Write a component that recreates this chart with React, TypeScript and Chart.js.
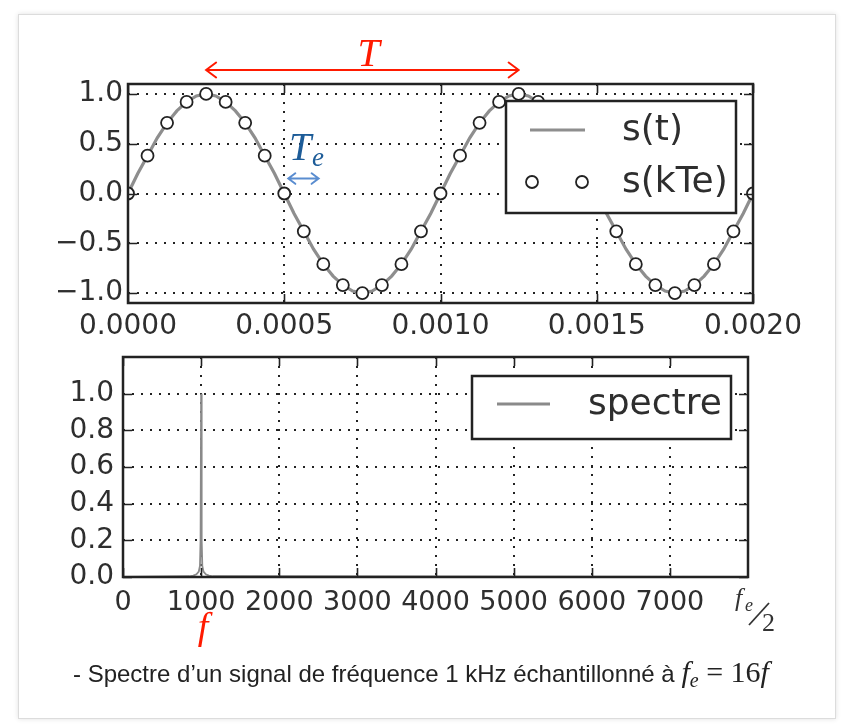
import React, { useEffect, useRef } from "react";
import { Chart, registerables } from "chart.js";

Chart.register(...registerables);

// ---------- data ----------
const sampleTimes = [
  0, 0.0000625, 0.000125, 0.0001875, 0.00025, 0.0003125, 0.000375, 0.0004375,
  0.0005, 0.0005625, 0.000625, 0.0006875, 0.00075, 0.0008125, 0.000875, 0.0009375,
  0.001, 0.0010625, 0.001125, 0.0011875, 0.00125, 0.0013125, 0.001375, 0.0014375,
  0.0015, 0.0015625, 0.001625, 0.0016875, 0.00175, 0.0018125, 0.001875, 0.0019375, 0.002,
];
const sampleValues = [
  0, 0.38, 0.71, 0.92, 1.0, 0.92, 0.71, 0.38, 0, -0.38, -0.71, -0.92, -1.0, -0.92, -0.71, -0.38,
  0, 0.38, 0.71, 0.92, 1.0, 0.92, 0.71, 0.38, 0, -0.38, -0.71, -0.92, -1.0, -0.92, -0.71, -0.38, 0,
];
const signalTimes = [
  0, 0.00003125, 0.0000625, 0.00009375, 0.000125, 0.00015625, 0.0001875, 0.00021875,
  0.00025, 0.00028125, 0.0003125, 0.00034375, 0.000375, 0.00040625, 0.0004375, 0.00046875,
  0.0005, 0.00053125, 0.0005625, 0.00059375, 0.000625, 0.00065625, 0.0006875, 0.00071875,
  0.00075, 0.00078125, 0.0008125, 0.00084375, 0.000875, 0.00090625, 0.0009375, 0.00096875,
  0.001, 0.00103125, 0.0010625, 0.00109375, 0.001125, 0.00115625, 0.0011875, 0.00121875,
  0.00125, 0.00128125, 0.0013125, 0.00134375, 0.001375, 0.00140625, 0.0014375, 0.00146875,
  0.0015, 0.00153125, 0.0015625, 0.00159375, 0.001625, 0.00165625, 0.0016875, 0.00171875,
  0.00175, 0.00178125, 0.0018125, 0.00184375, 0.001875, 0.00190625, 0.0019375, 0.00196875,
  0.002,
];
const signalValues = [
  0, 0.2, 0.38, 0.56, 0.71, 0.83, 0.92, 0.98, 1, 0.98, 0.92, 0.83, 0.71, 0.56, 0.38, 0.2,
  0, -0.2, -0.38, -0.56, -0.71, -0.83, -0.92, -0.98, -1, -0.98, -0.92, -0.83, -0.71, -0.56, -0.38, -0.2,
  0, 0.2, 0.38, 0.56, 0.71, 0.83, 0.92, 0.98, 1, 0.98, 0.92, 0.83, 0.71, 0.56, 0.38, 0.2,
  0, -0.2, -0.38, -0.56, -0.71, -0.83, -0.92, -0.98, -1, -0.98, -0.92, -0.83, -0.71, -0.56, -0.38, -0.2,
  0,
];
const spectrumFreqs = [0, 850, 900, 940, 970, 985, 993, 1000, 1007, 1015, 1030, 1060, 1100, 1150, 8000];
const spectrumAmps = [0, 0.004, 0.008, 0.015, 0.03, 0.06, 0.2, 1.0, 0.2, 0.06, 0.03, 0.015, 0.008, 0.004, 0];

const topXTicks = [0, 0.0005, 0.001, 0.0015, 0.002];
const topYTicks = [-1, -0.5, 0, 0.5, 1];
const botXTicks = [0, 1000, 2000, 3000, 4000, 5000, 6000, 7000];
const botYTicks = [0, 0.2, 0.4, 0.6, 0.8, 1.0];

// ---------- style ----------
const SANS = '"DejaVu Sans", sans-serif';
const SERIF = '"Liberation Serif", "DejaVu Serif", serif';
const INK = "#222222";
const TXT = "#2e2e2e";

function doubleArrow(ctx: CanvasRenderingContext2D, x1: number, x2: number, y: number, color: string, w: number, head: number) {
  ctx.save();
  ctx.strokeStyle = color;
  ctx.lineWidth = w;
  ctx.lineCap = "round";
  ctx.beginPath();
  ctx.moveTo(x1, y);
  ctx.lineTo(x2, y);
  ctx.moveTo(x1 + head, y - head * 0.75);
  ctx.lineTo(x1, y);
  ctx.lineTo(x1 + head, y + head * 0.75);
  ctx.moveTo(x2 - head, y - head * 0.75);
  ctx.lineTo(x2, y);
  ctx.lineTo(x2 - head, y + head * 0.75);
  ctx.stroke();
  ctx.restore();
}

const framePlugin = {
  id: "frame",
  afterDatasetsDraw(chart: any) {
    const { ctx, chartArea: a } = chart;
    const xs = chart.scales.x;
    const ys = chart.scales.y;
    ctx.save();
    ctx.strokeStyle = INK;
    ctx.lineWidth = 1.6;
    ctx.beginPath();
    xs.ticks.forEach((t: any) => {
      const p = Math.round(xs.getPixelForValue(t.value)) + 0.5;
      ctx.moveTo(p, a.bottom);
      ctx.lineTo(p, a.bottom - 9);
      ctx.moveTo(p, a.top);
      ctx.lineTo(p, a.top + 9);
    });
    ys.ticks.forEach((t: any) => {
      const p = Math.round(ys.getPixelForValue(t.value)) + 0.5;
      ctx.moveTo(a.left, p);
      ctx.lineTo(a.left + 9, p);
      ctx.moveTo(a.right, p);
      ctx.lineTo(a.right - 9, p);
    });
    ctx.stroke();
    ctx.lineWidth = 2.5;
    ctx.strokeRect(a.left, a.top, a.right - a.left, a.bottom - a.top);
    ctx.restore();
  },
};

const topAnnotations = {
  id: "topAnnotations",
  afterDraw(chart: any) {
    const { ctx, chartArea: a } = chart;
    const xs = chart.scales.x;
    const ys = chart.scales.y;
    const ds = chart.data.datasets;
    // legend
    const lx = a.left + 378, ly = a.top + 17, lw = 230, lh = 112;
    ctx.save();
    ctx.fillStyle = "#ffffff";
    ctx.fillRect(lx, ly, lw, lh);
    ctx.strokeStyle = INK;
    ctx.lineWidth = 2.5;
    ctx.strokeRect(lx, ly, lw, lh);
    ctx.strokeStyle = ds[0].borderColor;
    ctx.lineWidth = 3;
    ctx.beginPath();
    ctx.moveTo(lx + 24, ly + 29);
    ctx.lineTo(lx + 79, ly + 29);
    ctx.stroke();
    ctx.fillStyle = "#fff";
    ctx.strokeStyle = INK;
    ctx.lineWidth = 1.8;
    [lx + 26, lx + 76].forEach((cx) => {
      ctx.beginPath();
      ctx.arc(cx, ly + 81, 6, 0, Math.PI * 2);
      ctx.fill();
      ctx.stroke();
    });
    ctx.fillStyle = TXT;
    ctx.font = `36px ${SANS}`;
    ctx.textBaseline = "middle";
    ctx.textAlign = "left";
    ctx.fillText(ds[0].label, lx + 116, ly + 30);
    ctx.fillText(ds[1].label, lx + 116, ly + 82);
    ctx.restore();

    // period T
    const yArrow = a.top - 14;
    doubleArrow(ctx, xs.getPixelForValue(0.00025), xs.getPixelForValue(0.00125), yArrow, "#ff1a00", 2, 10);
    ctx.save();
    ctx.fillStyle = "#ff1a00";
    ctx.font = `italic 40px ${SERIF}`;
    ctx.textAlign = "center";
    ctx.textBaseline = "alphabetic";
    ctx.fillText("T", xs.getPixelForValue(0.00077), a.top - 18);
    ctx.restore();

    // sampling period Te
    const ya = ys.getPixelForValue(0.15);
    doubleArrow(ctx, xs.getPixelForValue(0.000513), xs.getPixelForValue(0.00061), ya, "#5a8dd0", 2, 7);
    ctx.save();
    ctx.fillStyle = "#1d5c98";
    ctx.textBaseline = "alphabetic";
    ctx.textAlign = "left";
    ctx.font = `italic 40px ${SERIF}`;
    const tx = xs.getPixelForValue(0.000515);
    ctx.fillText("T", tx, ya - 19);
    ctx.font = `italic 27px ${SERIF}`;
    ctx.fillText("e", tx + 23, ya - 13);
    ctx.restore();
  },
};

const bottomAnnotations = {
  id: "bottomAnnotations",
  afterDraw(chart: any) {
    const { ctx, chartArea: a } = chart;
    const xs = chart.scales.x;
    const ds = chart.data.datasets;
    // legend
    const lx = a.left + 349, ly = a.top + 19, lw = 259, lh = 63;
    ctx.save();
    ctx.fillStyle = "#ffffff";
    ctx.fillRect(lx, ly, lw, lh);
    ctx.strokeStyle = INK;
    ctx.lineWidth = 2.5;
    ctx.strokeRect(lx, ly, lw, lh);
    ctx.strokeStyle = ds[0].borderColor;
    ctx.lineWidth = 3;
    ctx.beginPath();
    ctx.moveTo(lx + 25, ly + 28);
    ctx.lineTo(lx + 78, ly + 28);
    ctx.stroke();
    ctx.fillStyle = TXT;
    ctx.font = `36px ${SANS}`;
    ctx.textBaseline = "middle";
    ctx.textAlign = "left";
    ctx.fillText(ds[0].label, lx + 116, ly + 29);
    ctx.restore();

    // f marker
    ctx.save();
    ctx.fillStyle = "#ff1a00";
    ctx.font = `italic 38px ${SERIF}`;
    ctx.textAlign = "center";
    ctx.textBaseline = "alphabetic";
    ctx.fillText("f", xs.getPixelForValue(1000) + 2, a.bottom + 62);
    ctx.restore();

    // fe/2 label
    ctx.save();
    ctx.fillStyle = "#333";
    ctx.strokeStyle = "#333";
    ctx.textBaseline = "alphabetic";
    ctx.textAlign = "left";
    ctx.font = `italic 26px ${SERIF}`;
    ctx.fillText("f", a.right - 13, a.bottom + 29);
    ctx.font = `italic 18px ${SERIF}`;
    ctx.fillText("e", a.right - 3, a.bottom + 34);
    ctx.lineWidth = 1.8;
    ctx.beginPath();
    ctx.moveTo(a.right + 1, a.bottom + 48);
    ctx.lineTo(a.right + 21, a.bottom + 26);
    ctx.stroke();
    ctx.font = `26px ${SERIF}`;
    ctx.fillText("2", a.right + 14, a.bottom + 54);
    ctx.restore();
  },
};

function fixedTicks(values: number[]) {
  return (scale: any) => {
    scale.ticks = values.map((v) => ({ value: v }));
  };
}

function fmtMinus(v: number, d: number) {
  return v.toFixed(d).replace("-", "\u2212");
}

const fitX = (s: any) => {
  s.height = 40;
};
const fitY = (s: any) => {
  s.width = 100;
  s.paddingTop = 0;
  s.paddingBottom = 0;
};

function axisCommon() {
  return {
    grid: { color: INK, lineWidth: 2, drawTicks: false },
    border: { display: false, dash: [2, 7] },
  };
}

function TopChart() {
  const ref = useRef<HTMLCanvasElement | null>(null);
  useEffect(() => {
    if (!ref.current) return;
    const chart = new Chart(ref.current, {
      type: "line",
      data: {
        datasets: [
          {
            label: "s(t)",
            data: signalTimes.map((t, i) => ({ x: t, y: signalValues[i] })),
            borderColor: "#8e8e8e",
            borderWidth: 3.2,
            pointRadius: 0,
            tension: 0,
            order: 2,
          },
          {
            label: "s(kTe)",
            data: sampleTimes.map((t, i) => ({ x: t, y: sampleValues[i] })),
            showLine: false,
            pointRadius: 6,
            pointBackgroundColor: "#ffffff",
            pointBorderColor: INK,
            pointBorderWidth: 1.8,
            order: 1,
          },
        ],
      },
      options: {
        responsive: false,
        animation: false,
        devicePixelRatio: 1,
        layout: { padding: { left: 28, right: 91, top: 84, bottom: 2 } },
        plugins: { legend: { display: false }, tooltip: { enabled: false } },
        scales: {
          x: {
            type: "linear",
            min: 0,
            max: 0.002,
            afterBuildTicks: fixedTicks(topXTicks),
            afterFit: fitX,
            ...axisCommon(),
            ticks: {
              autoSkip: false,
              maxRotation: 0,
              padding: 7,
              color: TXT,
              font: { family: SANS, size: 28 },
              callback: (v: any) => Number(v).toFixed(4),
            },
          },
          y: {
            type: "linear",
            min: -1.1,
            max: 1.1,
            afterBuildTicks: fixedTicks(topYTicks),
            afterFit: fitY,
            ...axisCommon(),
            ticks: {
              padding: 5,
              color: TXT,
              font: { family: SANS, size: 28 },
              callback: (v: any) => fmtMinus(Number(v), 1),
            },
          },
        },
      },
      plugins: [framePlugin, topAnnotations],
    } as any);
    return () => chart.destroy();
  }, []);
  return (
    <canvas
      ref={ref}
      width={844}
      height={345}
      style={{ position: "absolute", left: 0, top: 0, width: 844, height: 345 }}
    />
  );
}

function BottomChart() {
  const ref = useRef<HTMLCanvasElement | null>(null);
  useEffect(() => {
    if (!ref.current) return;
    const chart = new Chart(ref.current, {
      type: "line",
      data: {
        datasets: [
          {
            label: "spectre",
            data: spectrumFreqs.map((f, i) => ({ x: f, y: spectrumAmps[i] })),
            borderColor: "#8a8a8a",
            borderWidth: 1.8,
            pointRadius: 0,
            tension: 0,
          },
        ],
      },
      options: {
        responsive: false,
        animation: false,
        devicePixelRatio: 1,
        layout: { padding: { left: 23, right: 96, top: 12, bottom: 107 } },
        plugins: { legend: { display: false }, tooltip: { enabled: false } },
        scales: {
          x: {
            type: "linear",
            min: 0,
            max: 8000,
            afterBuildTicks: fixedTicks(botXTicks),
            afterFit: fitX,
            ...axisCommon(),
            ticks: {
              autoSkip: false,
              maxRotation: 0,
              padding: 10,
              color: TXT,
              font: { family: SANS, size: 27 },
              callback: (v: any) => String(v),
            },
          },
          y: {
            type: "linear",
            min: 0,
            max: 1.2,
            afterBuildTicks: fixedTicks(botYTicks),
            afterFit: fitY,
            ...axisCommon(),
            ticks: {
              padding: 9,
              color: TXT,
              font: { family: SANS, size: 28 },
              callback: (v: any) => Number(v).toFixed(1),
            },
          },
        },
      },
      plugins: [framePlugin, bottomAnnotations],
    } as any);
    return () => chart.destroy();
  }, []);
  return (
    <canvas
      ref={ref}
      width={844}
      height={379}
      style={{ position: "absolute", left: 0, top: 345, width: 844, height: 379 }}
    />
  );
}

export default function App() {
  return (
    <div
      style={{
        position: "absolute",
        left: 0,
        top: 0,
        width: 844,
        height: 724,
        background: "#ffffff",
        overflow: "hidden",
      }}
    >
      <div
        style={{
          position: "absolute",
          left: 18,
          top: 14,
          width: 816,
          height: 703,
          border: "1px solid #dcdcdc",
          boxShadow: "0 0 5px rgba(0,0,0,0.12)",
          background: "#fff",
        }}
      />
      <TopChart />
      <BottomChart />
      <div
        style={{
          position: "absolute",
          left: 73,
          top: 657,
          fontFamily: '"Liberation Sans", Arial, sans-serif',
          fontSize: 24,
          lineHeight: "30px",
          color: "#222",
          whiteSpace: "nowrap",
        }}
      >
        - Spectre d’un signal de fréquence 1 kHz échantillonné à{" "}
        <span style={{ fontFamily: SERIF, fontSize: 30, lineHeight: "30px" }}>
          <i>f</i>
          <i style={{ fontSize: 20, position: "relative", top: 5 }}>e</i>
          {" = 16"}
          <i>f</i>
        </span>
      </div>
    </div>
  );
}
